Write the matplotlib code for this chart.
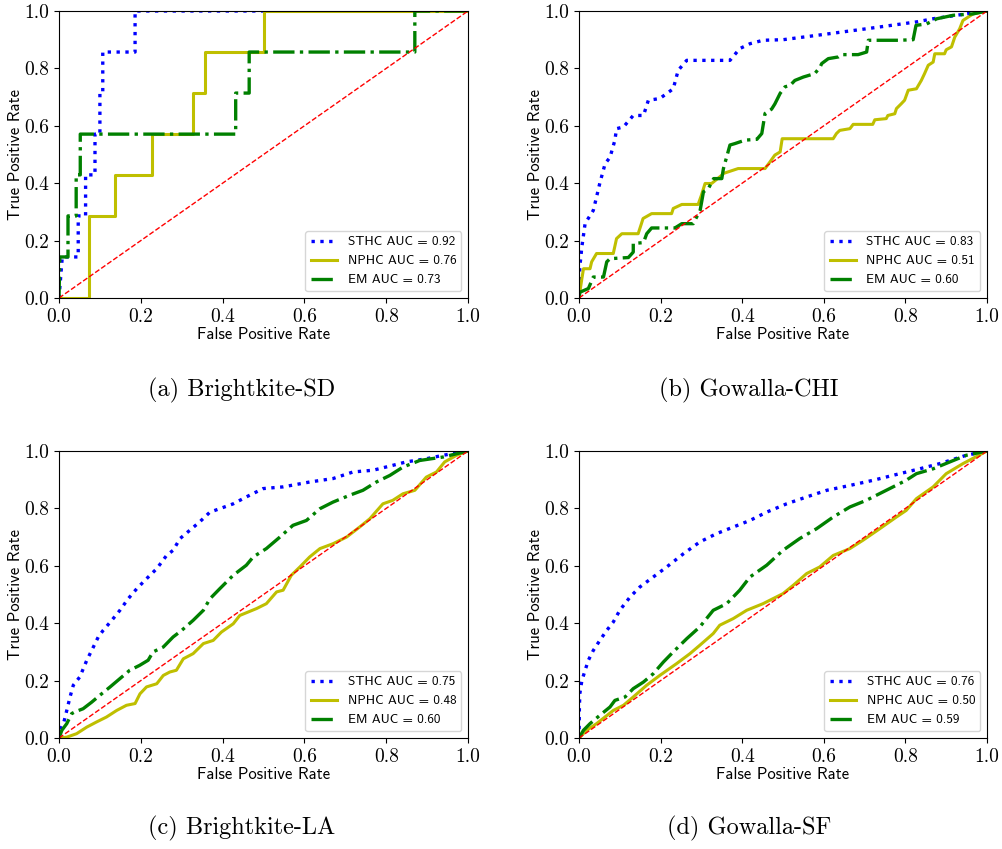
import numpy as np
import matplotlib
matplotlib.use("Agg")
import matplotlib.pyplot as plt

# ---- (a) Brightkite-SD ----
sd_sthc_fpr = [0, 0.008, 0.047, 0.047, 0.065, 0.065, 0.088, 0.088, 0.1, 0.1, 0.107, 0.107, 0.186, 0.186, 1.0]
sd_sthc_tpr = [0, 0.143, 0.143, 0.286, 0.286, 0.429, 0.429, 0.571, 0.571, 0.714, 0.714, 0.857, 0.857, 1.0, 1.0]
sd_nphc_fpr = [0, 0.073, 0.073, 0.138, 0.138, 0.228, 0.228, 0.328, 0.328, 0.357, 0.357, 0.5, 0.5, 1.0]
sd_nphc_tpr = [0, 0, 0.286, 0.286, 0.429, 0.429, 0.571, 0.571, 0.714, 0.714, 0.857, 0.857, 1.0, 1.0]
sd_em_fpr = [0, 0.002, 0.022, 0.022, 0.042, 0.042, 0.052, 0.052, 0.432, 0.432, 0.465, 0.465, 0.87, 0.87, 1.0]
sd_em_tpr = [0, 0.143, 0.143, 0.286, 0.286, 0.429, 0.429, 0.571, 0.571, 0.714, 0.714, 0.857, 0.857, 1.0, 1.0]

# ---- (b) Gowalla-CHI ----
chi_sthc_fpr = [0, 0.002, 0.007, 0.015, 0.035, 0.043, 0.051, 0.064, 0.076, 0.088, 0.092, 0.109, 0.133, 0.158,
                0.17, 0.198, 0.231, 0.243, 0.264, 0.37, 0.394, 0.419, 0.451, 0.5, 0.582, 0.704, 0.827, 0.868,
                0.949, 1.0]
chi_sthc_tpr = [0, 0.108, 0.178, 0.26, 0.305, 0.352, 0.40, 0.468, 0.49, 0.55, 0.59, 0.596, 0.636, 0.636,
                0.689, 0.695, 0.729, 0.793, 0.828, 0.828, 0.869, 0.886, 0.898, 0.9, 0.915, 0.938, 0.962, 0.973,
                0.99, 1.0]
chi_nphc_fpr = [0, 0.002, 0.007, 0.011, 0.027, 0.031, 0.043, 0.084, 0.092, 0.105, 0.145, 0.153, 0.157, 0.178,
                0.227, 0.231, 0.252, 0.292, 0.3, 0.309, 0.325, 0.35, 0.354, 0.39, 0.456, 0.468, 0.48, 0.493,
                0.498, 0.623, 0.631, 0.639, 0.664, 0.672, 0.72, 0.725, 0.753, 0.757, 0.774, 0.778, 0.79,
                0.798, 0.807, 0.827, 0.839, 0.847, 0.856, 0.868, 0.872, 0.896, 0.9, 0.913, 0.921, 0.933,
                0.941, 0.966, 1.0]
chi_nphc_tpr = [0, 0.02, 0.067, 0.102, 0.102, 0.126, 0.155, 0.155, 0.207, 0.224, 0.224, 0.259, 0.277, 0.294,
                0.294, 0.312, 0.326, 0.326, 0.358, 0.399, 0.399, 0.428, 0.434, 0.451, 0.451, 0.474, 0.498,
                0.509, 0.555, 0.555, 0.573, 0.584, 0.59, 0.605, 0.605, 0.621, 0.625, 0.636, 0.642, 0.66,
                0.677, 0.689, 0.724, 0.729, 0.758, 0.782, 0.811, 0.822, 0.851, 0.851, 0.865, 0.875, 0.909,
                0.938, 0.967, 0.99, 1.0]
chi_em_fpr = [0, 0.002, 0.023, 0.035, 0.06, 0.068, 0.076, 0.121, 0.133, 0.133, 0.158, 0.166, 0.178, 0.235,
              0.252, 0.28, 0.297, 0.305, 0.317, 0.33, 0.35, 0.354, 0.362, 0.37, 0.382, 0.407, 0.436, 0.448,
              0.456, 0.472, 0.48, 0.493, 0.505, 0.517, 0.529, 0.55, 0.578, 0.591, 0.595, 0.611, 0.636, 0.644,
              0.684, 0.705, 0.709, 0.783, 0.819, 0.826, 0.852, 0.877, 0.917, 0.966, 1.0]
chi_em_tpr = [0, 0.02, 0.033, 0.073, 0.073, 0.126, 0.137, 0.141, 0.16, 0.19, 0.193, 0.224, 0.244, 0.244,
              0.259, 0.259, 0.306, 0.37, 0.381, 0.416, 0.416, 0.451, 0.492, 0.533, 0.538, 0.55, 0.553, 0.573,
              0.643, 0.658, 0.676, 0.713, 0.736, 0.74, 0.758, 0.77, 0.782, 0.805, 0.817, 0.834, 0.84, 0.848,
              0.848, 0.857, 0.898, 0.898, 0.9, 0.95, 0.955, 0.973, 0.985, 0.99, 1.0]

# ---- (c) Brightkite-LA ----
la_sthc_fpr = [0, 0.002, 0.011, 0.019, 0.027, 0.035, 0.051, 0.068, 0.084, 0.096, 0.108, 0.129, 0.149, 0.169,
               0.19, 0.214, 0.239, 0.263, 0.279, 0.296, 0.32, 0.344, 0.369, 0.393, 0.426, 0.458, 0.499, 0.548,
               0.613, 0.67, 0.719, 0.768, 0.816, 0.849, 0.898, 0.939, 1.0]
la_sthc_tpr = [0, 0.027, 0.05, 0.096, 0.143, 0.184, 0.213, 0.271, 0.317, 0.352, 0.375, 0.41, 0.445, 0.485,
               0.52, 0.555, 0.59, 0.636, 0.654, 0.695, 0.724, 0.753, 0.787, 0.799, 0.816, 0.84, 0.869, 0.875,
               0.892, 0.904, 0.927, 0.933, 0.95, 0.962, 0.973, 0.985, 1.0]
la_nphc_fpr = [0, 0.019, 0.043, 0.068, 0.092, 0.116, 0.141, 0.165, 0.186, 0.198, 0.214, 0.239, 0.255, 0.271,
               0.287, 0.304, 0.328, 0.353, 0.377, 0.397, 0.426, 0.442, 0.483, 0.507, 0.532, 0.548, 0.568,
               0.589, 0.613, 0.638, 0.67, 0.703, 0.735, 0.76, 0.792, 0.816, 0.841, 0.87, 0.898, 0.923,
               0.943, 0.972, 1.0]
la_nphc_tpr = [0, 0.003, 0.015, 0.038, 0.056, 0.073, 0.096, 0.114, 0.12, 0.154, 0.178, 0.189, 0.218, 0.23,
               0.236, 0.276, 0.294, 0.329, 0.34, 0.369, 0.398, 0.427, 0.451, 0.468, 0.509, 0.515, 0.567,
               0.596, 0.631, 0.66, 0.677, 0.7, 0.735, 0.764, 0.816, 0.828, 0.851, 0.863, 0.909, 0.927,
               0.962, 0.985, 1.0]
la_em_fpr = [0, 0.007, 0.019, 0.031, 0.039, 0.059, 0.08, 0.1, 0.125, 0.149, 0.173, 0.197, 0.218, 0.23, 0.255,
             0.279, 0.3, 0.328, 0.353, 0.369, 0.393, 0.426, 0.458, 0.475, 0.507, 0.54, 0.572, 0.605, 0.638,
             0.67, 0.711, 0.743, 0.776, 0.809, 0.841, 0.882, 0.939, 1.0]
la_em_tpr = [0, 0.027, 0.05, 0.085, 0.091, 0.102, 0.125, 0.149, 0.178, 0.207, 0.236, 0.253, 0.271, 0.3, 0.317,
             0.352, 0.375, 0.41, 0.445, 0.485, 0.52, 0.567, 0.602, 0.631, 0.66, 0.7, 0.741, 0.758, 0.799,
             0.822, 0.846, 0.863, 0.892, 0.915, 0.944, 0.967, 0.979, 1.0]

# ---- (d) Gowalla-SF ----
sf_sthc_fpr = [0, 0.001, 0.002, 0.007, 0.015, 0.023, 0.035, 0.051, 0.068, 0.084, 0.1, 0.125, 0.149, 0.182,
               0.215, 0.256, 0.296, 0.337, 0.378, 0.419, 0.46, 0.509, 0.558, 0.607, 0.664, 0.721, 0.786,
               0.835, 0.884, 0.949, 1.0]
sf_sthc_tpr = [0, 0.108, 0.154, 0.2, 0.236, 0.271, 0.305, 0.34, 0.375, 0.404, 0.445, 0.491, 0.526, 0.561,
               0.596, 0.642, 0.683, 0.712, 0.735, 0.758, 0.787, 0.816, 0.84, 0.863, 0.88, 0.898, 0.921,
               0.938, 0.956, 0.985, 1.0]
sf_nphc_fpr = [0, 0.019, 0.043, 0.084, 0.109, 0.133, 0.166, 0.198, 0.239, 0.272, 0.296, 0.329, 0.345, 0.378,
               0.411, 0.451, 0.5, 0.525, 0.558, 0.59, 0.623, 0.664, 0.696, 0.737, 0.778, 0.802, 0.827, 0.868,
               0.9, 0.941, 1.0]
sf_nphc_tpr = [0, 0.027, 0.05, 0.096, 0.114, 0.143, 0.184, 0.218, 0.259, 0.294, 0.323, 0.364, 0.393, 0.416,
               0.445, 0.468, 0.503, 0.532, 0.573, 0.596, 0.636, 0.66, 0.689, 0.729, 0.77, 0.793, 0.834, 0.875,
               0.921, 0.956, 1.0]
sf_em_fpr = [0, 0.011, 0.027, 0.051, 0.076, 0.088, 0.113, 0.133, 0.158, 0.182, 0.207, 0.231, 0.264, 0.296,
             0.329, 0.362, 0.394, 0.419, 0.46, 0.5, 0.541, 0.582, 0.623, 0.664, 0.704, 0.753, 0.802, 0.827,
             0.868, 0.909, 0.949, 1.0]
sf_em_tpr = [0, 0.027, 0.05, 0.079, 0.108, 0.131, 0.143, 0.172, 0.195, 0.224, 0.265, 0.3, 0.346, 0.387,
             0.445, 0.468, 0.515, 0.561, 0.602, 0.654, 0.695, 0.729, 0.77, 0.805, 0.828, 0.863, 0.898, 0.921,
             0.938, 0.962, 0.985, 1.0]

captions = ["(a) Brightkite-SD", "(b) Gowalla-CHI", "(c) Brightkite-LA", "(d) Gowalla-SF"]
auc_sthc = [0.92, 0.83, 0.75, 0.76]
auc_nphc = [0.76, 0.51, 0.48, 0.50]
auc_em = [0.73, 0.60, 0.60, 0.59]

panels = [
    (sd_sthc_fpr, sd_sthc_tpr, sd_nphc_fpr, sd_nphc_tpr, sd_em_fpr, sd_em_tpr),
    (chi_sthc_fpr, chi_sthc_tpr, chi_nphc_fpr, chi_nphc_tpr, chi_em_fpr, chi_em_tpr),
    (la_sthc_fpr, la_sthc_tpr, la_nphc_fpr, la_nphc_tpr, la_em_fpr, la_em_tpr),
    (sf_sthc_fpr, sf_sthc_tpr, sf_nphc_fpr, sf_nphc_tpr, sf_em_fpr, sf_em_tpr),
]

W, H = 1002, 849
fig = plt.figure(figsize=(W / 100, H / 100), dpi=100)

# axes boxes in pixels: left, top, right, bottom
boxes = [(59, 11, 468, 298), (579, 11, 987, 298), (59, 451, 468, 738), (579, 451, 987, 738)]
cap_pos = [(242, 390), (749, 390), (242, 828), (749, 828)]

serif = "cmr10"
sans = "cmss10"

for i, (x1, y1, x2, y2, x3, y3) in enumerate(panels):
    l, t, r, b = boxes[i]
    ax = fig.add_axes([l / W, 1 - b / H, (r - l) / W, (b - t) / H])
    ax.plot(x1, y1, color="b", linestyle=":", lw=2.4, label="STHC AUC = %.2f" % auc_sthc[i])
    ax.plot(x2, y2, color="y", linestyle="-", lw=2.2, label="NPHC AUC = %.2f" % auc_nphc[i])
    ax.plot(x3, y3, color="g", linestyle="-.", lw=2.4, label="EM AUC = %.2f" % auc_em[i])
    ax.plot([0, 1], [0, 1], "r--", lw=1)
    ax.set_xlim(0, 1)
    ax.set_ylim(0, 1)
    ticks = np.arange(0, 1.01, 0.2)
    ax.set_xticks(ticks)
    ax.set_yticks(ticks)
    ax.set_xticklabels(["%.1f" % v for v in ticks], fontfamily=serif, fontsize=14)
    ax.set_yticklabels(["%.1f" % v for v in ticks], fontfamily=serif, fontsize=14)
    ax.set_xlabel("False Positive Rate", fontfamily=sans, fontsize=12, labelpad=1)
    ax.set_ylabel("True Positive Rate", fontfamily=sans, fontsize=12, labelpad=1)
    ax.legend(loc="lower right", prop={"family": sans, "size": 9.5})
    cx, cy = cap_pos[i]
    fig.text(cx / W, 1 - cy / H, captions[i], ha="center", va="center", fontfamily=serif, fontsize=17.5)

fig.savefig("out.png", dpi=100)
